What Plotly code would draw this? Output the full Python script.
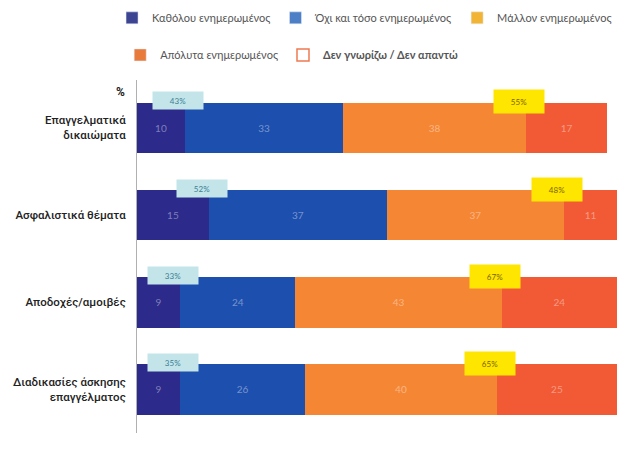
import plotly.graph_objects as go

categories = ["Επαγγελματικά<br>δικαιώματα", "Ασφαλιστικά θέματα", "Αποδοχές/αμοιβές",
              "Διαδικασίες άσκησης<br>επαγγέλματος"]
not_at_all = [10, 15, 9, 9]
not_so = [33, 37, 24, 26]
rather = [38, 37, 43, 40]
fully = [17, 11, 24, 25]
low_totals = ["43%", "52%", "33%", "35%"]
high_totals = ["55%", "48%", "67%", "65%"]

series_names = ["Καθόλου ενημερωμένος", "Όχι και τόσο ενημερωμένος", "Μάλλον ενημερωμένος",
                "Απόλυτα ενημερωμένος", "<b>Δεν γνωρίζω / Δεν απαντώ</b>"]
bar_colors = ["#2c2a8b", "#1d4fae", "#f58634", "#f15a35"]
legend_colors = ["#3d4593", "#4d7fc6", "#f1b434", "#e87a3c"]

FONT = "Lato, 'Noto Sans', sans-serif"
LABEL_FONT = "Roboto, sans-serif"

fig = go.Figure()
for vals, col in zip([not_at_all, not_so, rather, fully], bar_colors):
    fig.add_trace(go.Bar(
        y=categories, x=vals, orientation="h", marker=dict(color=col, line=dict(width=0)),
        text=[str(v) for v in vals], textposition="inside", insidetextanchor="middle",
        textfont=dict(color="rgba(255,255,255,0.4)", size=10), showlegend=False,
        hoverinfo="skip"))

# legend entries
for i in range(3):
    fig.add_trace(go.Bar(y=[None], x=[None], orientation="h", name=series_names[i],
                         marker=dict(color=legend_colors[i]), legend="legend"))
fig.add_trace(go.Bar(y=[None], x=[None], orientation="h", name=series_names[3],
                     marker=dict(color=legend_colors[3]), legend="legend2"))
fig.add_trace(go.Bar(y=[None], x=[None], orientation="h", name=series_names[4],
                     marker=dict(color="white", line=dict(color="#ee7a50", width=1.5)),
                     legend="legend2"))

annotations = [dict(text="<b>%</b>", xref="paper", yref="paper", x=-0.02, y=0.966,
                    xanchor="right", yanchor="middle", showarrow=False,
                    font=dict(size=12, color="#222", family=LABEL_FONT))]
for i, cat in enumerate(categories):
    annotations.append(dict(
        x=not_at_all[i] - 1.5, y=cat, yshift=27, text=low_totals[i], showarrow=False,
        bgcolor="#c3e5ea", width=48, height=15, font=dict(size=8, color="#3b7d94", family=FONT)))
    annotations.append(dict(
        x=not_at_all[i] + not_so[i] + rather[i] - 1.5, y=cat, yshift=26, text=high_totals[i],
        showarrow=False, bgcolor="#ffe600", width=48, height=21,
        font=dict(size=8, color="#7a6400", family=FONT)))

fig.update_layout(
    width=623, height=450,
    margin=dict(l=129, r=14, t=72, b=25, autoexpand=False),
    paper_bgcolor="white", plot_bgcolor="white",
    barmode="stack", bargap=0.42,
    font=dict(family=FONT, color="#444"),
    xaxis=dict(range=[0, 100], visible=False, automargin=False),
    yaxis=dict(range=[3.5, -0.55], showline=True, linecolor="#b0b0b0", linewidth=1,
               showgrid=False, ticks="", ticklabelstandoff=8, automargin=False,
               tickfont=dict(size=11.5, color="#222", family=LABEL_FONT, weight=500)),
    legend=dict(orientation="h", x=-0.052, y=1.176, xanchor="left", yanchor="middle",
                font=dict(size=11, color="#555", family=FONT), itemwidth=30,
                traceorder="normal", bgcolor="rgba(0,0,0,0)"),
    legend2=dict(orientation="h", x=-0.035, y=1.071, xanchor="left", yanchor="middle",
                 font=dict(size=11, color="#555", family=FONT), itemwidth=30,
                 traceorder="normal", bgcolor="rgba(0,0,0,0)"),
    annotations=annotations,
)

fig.write_html("out.html")
